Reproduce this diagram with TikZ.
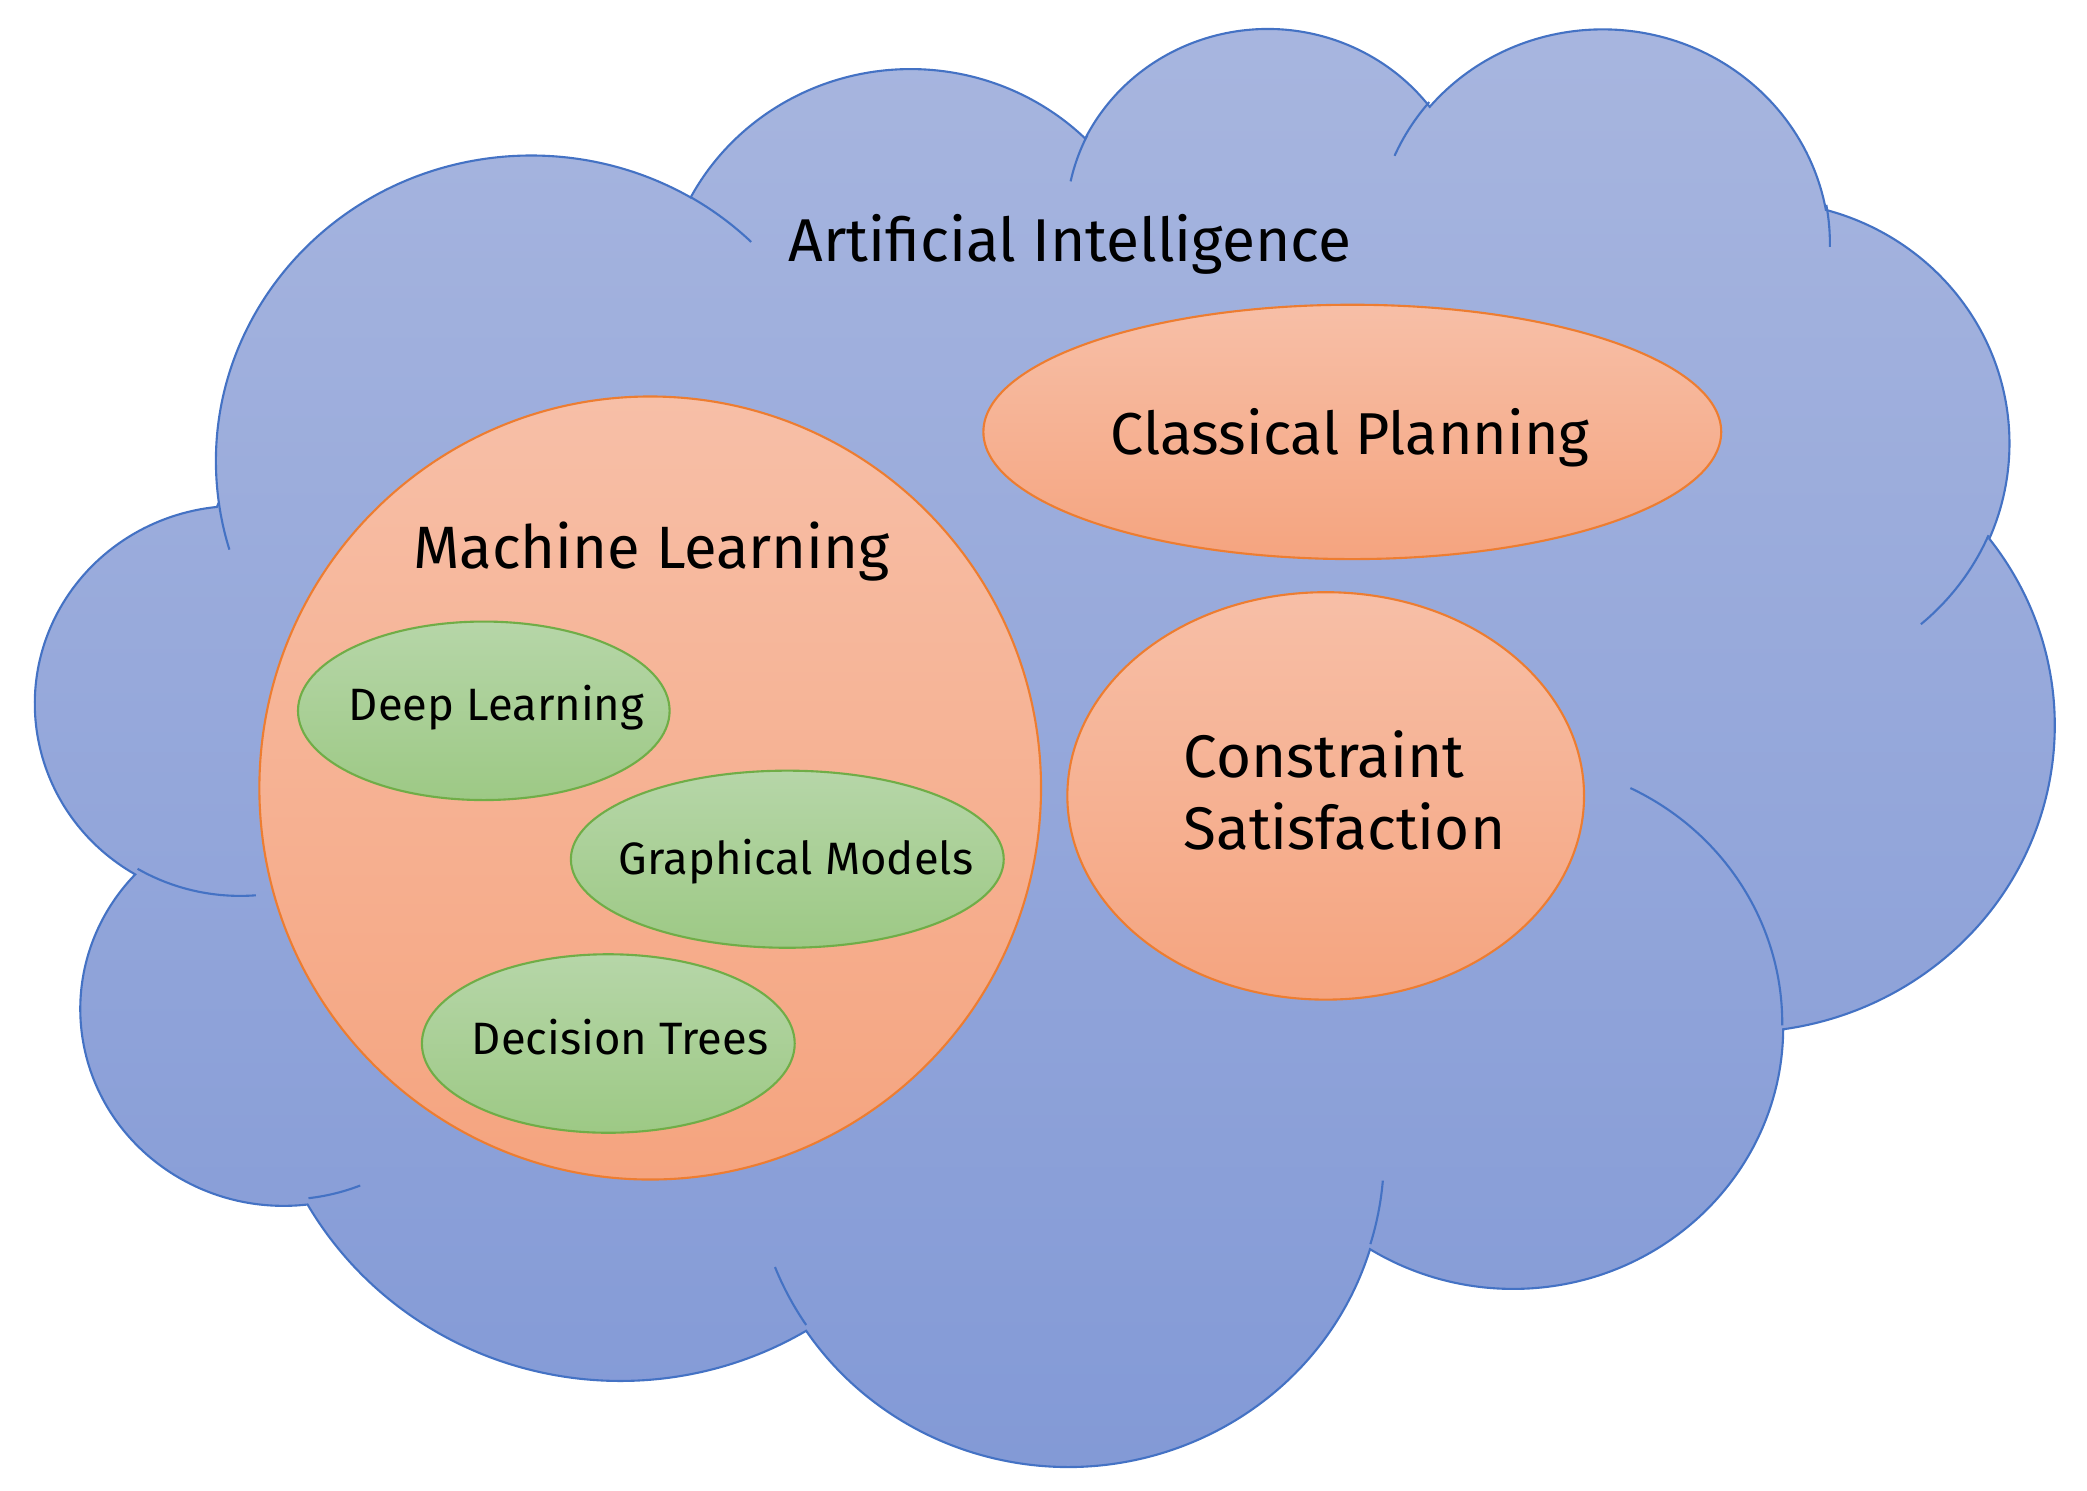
\documentclass[tikz,border=0pt]{standalone}
\usepackage{fontspec}
\setmainfont{Fira Sans}
\usetikzlibrary{shapes.geometric}
\definecolor{cldtop}{HTML}{A8B6DF}
\definecolor{cldbot}{HTML}{8299D6}
\definecolor{cldline}{HTML}{4472C4}
\definecolor{orntop}{HTML}{F7BFA7}
\definecolor{ornbot}{HTML}{F5A47F}
\definecolor{ornline}{HTML}{ED7D31}
\definecolor{grntop}{HTML}{B6D6A8}
\definecolor{grnbot}{HTML}{9DC985}
\definecolor{grnline}{HTML}{70AD47}
\begin{document}
\begin{tikzpicture}[x=0.01cm,y=-0.01cm,
  cloudline/.style={draw=cldline, line width=0.6pt},
  orangeell/.style={ellipse, draw=ornline, line width=0.6pt, top color=orntop, bottom color=ornbot, inner sep=0pt, outer sep=0pt},
  greenell/.style={ellipse, draw=grnline, line width=0.6pt, top color=grntop, bottom color=grnbot, inner sep=0pt, outer sep=0pt},
  bigtext/.style={font=\fontsize{#1}{1.2\dimexpr#1\relax}\selectfont, inner sep=0pt, anchor=base},
  bigtext/.default=17.1pt,
  smalltext/.style={font=\fontsize{12.9pt}{15pt}\selectfont, inner sep=0pt, anchor=base}]
\useasboundingbox (0,0) rectangle (2087,1490);
% cloud
\begin{scope}[shift={(36.7,24.3)}, xscale=4.6697, yscale=3.3273]
\draw[cloudline, top color=cldtop, bottom color=cldbot]
  (39.00,143.70)
  arc[start angle=172.26, end angle=300.36, x radius=67.53, y radius=91.90]
  arc[start angle=-152.02, end angle=-45.46, x radius=53.33, y radius=72.67]
  arc[start angle=-153.50, end angle=-37.33, x radius=43.65, y radius=59.45]
  arc[start angle=-139.69, end angle=-10.21, x radius=48.57, y radius=65.95]
  arc[start angle=-74.77, end angle=23.21, x radius=53.33, y radius=72.73]
  arc[start angle=-37.52, end angle=81.86, x radius=67.75, y radius=92.20]
  arc[start angle=0.46, end angle=121.98, x radius=57.85, y radius=78.67]
  arc[start angle=16.84, end angle=146.23, x radius=67.52, y radius=92.15]
  arc[start angle=58.98, end angle=150.20, x radius=77.20, y radius=105.43]
  arc[start angle=83.31, end angle=223.10, x radius=43.60, y radius=59.18]
  arc[start angle=120.35, end angle=264.11, x radius=43.45, y radius=59.45]
  -- cycle;
\draw[cloudline]
  (46.93,261.77) arc[start angle=85.55, end angle=120.35, x radius=43.45, y radius=59.45]
  (69.28,348.99) arc[start angle=68.24, end angle=83.31, x radius=43.60, y radius=59.18]
  (164.78,390.90) arc[start angle=146.23, end angle=158.47, x radius=67.52, y radius=92.15]
  (288.27,347.51) arc[start angle=4.74, end angle=16.84, x radius=67.52, y radius=92.15]
  (341.29,229.54) arc[start angle=-64.03, end angle=0.46, x radius=57.85, y radius=78.67]
  (417.98,153.54) arc[start angle=23.21, end angle=49.65, x radius=53.33, y radius=72.73]
  (383.24,54.26) arc[start angle=-10.21, end angle=0.82, x radius=48.57, y radius=65.95]
  (290.78,39.52) arc[start angle=-156.29, end angle=-139.69, x radius=48.57, y radius=65.95]
  (221.41,47.20) arc[start angle=-167.73, end angle=-153.50, x radius=43.65, y radius=59.45]
  (140.00,51.92) arc[start angle=-59.64, end angle=-45.74, x radius=67.53, y radius=91.90]
  (41.27,157.89) arc[start angle=163.19, end angle=172.25, x radius=67.53, y radius=91.90];
\end{scope}
\node[bigtext=17.2pt] (ai) at (1070,261) {Artificial Intelligence};
% orange sets
\node[orangeell, minimum width=7.374cm, minimum height=2.542cm] (cp) at (1352.3,431.9) {};
\node[bigtext=16.8pt] (cpt) at (1350,454) {Classical Planning};
\node[orangeell, minimum width=5.164cm, minimum height=4.072cm] (cs) at (1325.7,795.9) {};
\node[bigtext=17.1pt, anchor=base west] (cst1) at (1183,777) {Constraint};
\node[bigtext=17.1pt, anchor=base west] (cst2) at (1183,849) {Satisfaction};
\node[orangeell, minimum width=7.812cm, minimum height=7.826cm] (ml) at (650.2,788.0) {};
\node[bigtext=17.0pt] (mlt) at (651.5,568) {Machine Learning};
% green sets
\node[greenell, minimum width=3.714cm, minimum height=1.784cm] (dl) at (483.8,710.8) {};
\node[smalltext] (dlt) at (496.5,720) {Deep Learning};
\node[greenell, minimum width=4.326cm, minimum height=1.770cm] (gm) at (787.3,859.2) {};
\node[smalltext] (gmt) at (796,874) {Graphical Models};
\node[greenell, minimum width=3.726cm, minimum height=1.784cm] (dt) at (608.3,1043.5) {};
\node[smalltext] (dtt) at (620,1054) {Decision Trees};
\end{tikzpicture}
\end{document}
